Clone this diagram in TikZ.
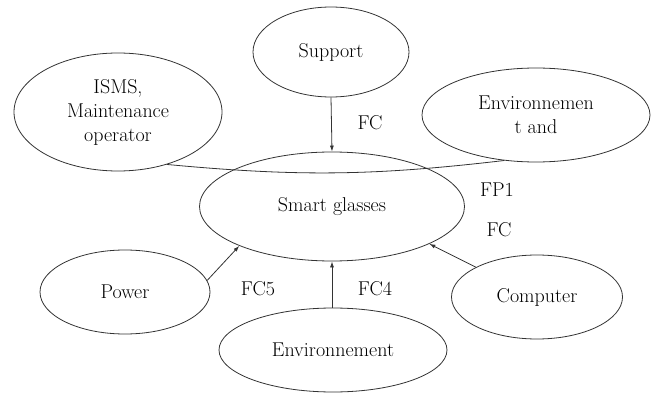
\documentclass[tikz,border=0pt]{standalone}
\usetikzlibrary{arrows.meta,shapes.geometric}

\begin{document}
\begin{tikzpicture}[
    x=1pt, y=-1pt,
    every node/.style={font=\fontsize{20}{24}\selectfont},
    oval/.style={draw=black!80, line width=0.8pt, ellipse, inner sep=0pt, align=center},
    lbl/.style={inner sep=0pt},
    arr/.style={-{Latex[length=6pt,width=4pt]}, line width=0.8pt, draw=black!80},
]
    \useasboundingbox (0,0) rectangle (654,393);

    % Centre
    \node[oval, minimum width=265, minimum height=109] (glasses) at (332,206.5) {Smart glasses};

    % Top row
    \node[oval, minimum width=156, minimum height=90] (support) at (331,52) {Support};
    \node[oval, minimum width=208, minimum height=118] (isms) at (118,112) {ISMS,\\Maintenance\\operator};
    \node[oval, minimum width=228, minimum height=94] (envand) at (536,115) {Environnemen\\t and};

    % Bottom row
    \node[oval, minimum width=170, minimum height=84] (power) at (125,292) {Power};
    \node[oval, minimum width=228, minimum height=84] (env) at (333,350) {Environnement};
    \node[oval, minimum width=171, minimum height=84] (computer) at (537,297) {Computer};

    % Flow labels
    \node[lbl] (fc1) at (370,123) {FC};
    \node[lbl] (fp1) at (497,190) {FP1};
    \node[lbl] (fc2) at (499,230) {FC};
    \node[lbl] (fc5) at (258,289) {FC5};
    \node[lbl] (fc4) at (375,289) {FC4};

    % Arrows
    \draw[arr] (support.south) -- (glasses.north);
    \draw[arr] (power.8) -- (glasses.-157);
    \draw[arr] (env.north -| glasses.south) -- (glasses.south);
    \draw[arr] (computer.154) -- (glasses.-21);
    \draw[line width=0.8pt, draw=black!80] (isms.-47) to[bend right=6] (envand.-125);
\end{tikzpicture}
\end{document}
